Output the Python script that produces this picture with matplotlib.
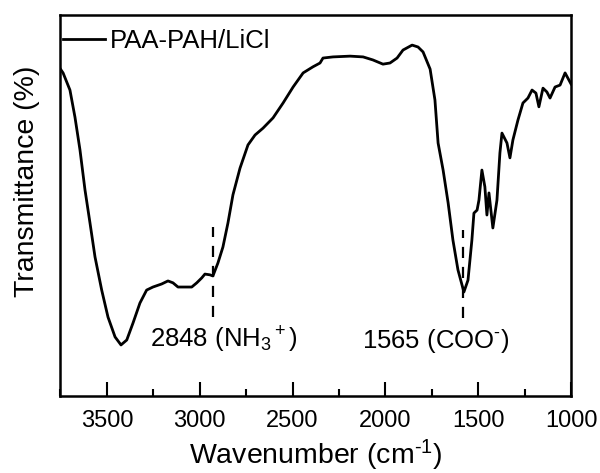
import numpy as np
import matplotlib
matplotlib.use("Agg")
import matplotlib.pyplot as plt
from matplotlib.ticker import MultipleLocator

plt.rcParams['font.family'] = ['Liberation Sans', 'DejaVu Sans']
plt.rcParams['mathtext.fontset'] = 'custom'
plt.rcParams['mathtext.rm'] = 'Liberation Sans'
plt.rcParams['mathtext.it'] = 'Liberation Sans:italic'

# FTIR spectrum of PAA-PAH/LiCl (wavenumber in cm-1, transmittance in a.u.)
wavenumber = [3750, 3736, 3699, 3672, 3645, 3618, 3591, 3564, 3528, 3494,
              3456, 3424, 3393, 3359, 3322, 3286, 3252, 3205, 3171, 3144,
              3117, 3079, 3043, 3016, 2989, 2972, 2945, 2929, 2902, 2875,
              2848, 2821, 2783, 2740, 2702, 2659, 2605, 2551, 2497, 2443,
              2390, 2352, 2336, 2282, 2190, 2120, 2067, 2013, 1975, 1937,
              1905, 1856, 1824, 1797, 1759, 1733, 1716, 1689, 1662, 1636,
              1609, 1577, 1555, 1534, 1523, 1506, 1496, 1480, 1464, 1453,
              1442, 1421, 1399, 1383, 1372, 1345, 1329, 1313, 1286, 1259,
              1232, 1210, 1189, 1173, 1151, 1130, 1113, 1086, 1059, 1032,
              1011, 1000]
transmittance = [85.8, 84.8, 80.3, 73.2, 64.6, 54.1, 45.4, 36.5, 27.8, 20.7,
                 15.5, 13.4, 14.7, 19.2, 24.4, 27.8, 28.6, 29.4, 30.2, 29.7,
                 28.6, 28.6, 28.6, 29.7, 31.0, 32.0, 31.8, 31.5, 34.9, 39.1,
                 45.4, 52.8, 59.8, 65.9, 68.5, 70.3, 73.0, 76.9, 81.1, 84.8,
                 86.4, 87.4, 88.7, 89.0, 89.2, 89.0, 88.2, 87.1, 87.4, 88.7,
                 90.8, 92.1, 91.6, 90.3, 85.8, 77.7, 66.4, 59.3, 50.7, 40.9,
                 33.1, 27.3, 30.4, 40.9, 48.0, 48.8, 51.4, 59.3, 54.9, 47.5,
                 53.3, 44.1, 51.4, 63.8, 69.0, 66.4, 62.5, 67.2, 72.4, 76.9,
                 78.2, 80.3, 79.5, 75.9, 80.8, 79.8, 78.2, 81.1, 81.6, 84.8,
                 82.9, 81.9]

# marked bands: dashed-line position, dash span and label
band_pos = [2930, 1580]
band_top = [44.4, 43.6]
band_bottom = [20.7, 20.5]
band_labels = ['2848 (NH$_3$$^+$)', '1565 (COO$^{\u2010}$)']
label_x = [3268, 2126]

fig = plt.figure(figsize=(6, 4.73), dpi=100)
ax = fig.add_axes([0.1008, 0.1628, 0.8509, 0.8055])

ax.plot(wavenumber, transmittance, color='black', lw=2.0, label='PAA-PAH/LiCl')

for x, y0, y1 in zip(band_pos, band_bottom, band_top):
    ax.plot([x, x], [y0, y1], color='black', lw=1.6, linestyle=(0, (5, 4)))

for lx, txt in zip(label_x, band_labels):
    ax.text(lx, 12.6, txt, ha='left', va='baseline', fontsize=18.5)

ax.set_xlim(3750, 1000)
ax.set_ylim(0, 100)
ax.xaxis.set_major_locator(MultipleLocator(500))
ax.xaxis.set_minor_locator(MultipleLocator(250))
ax.set_yticks([])
ax.tick_params(axis='x', which='major', direction='in', length=10, width=1.5,
               labelsize=17, pad=10)
ax.tick_params(axis='x', which='minor', direction='in', length=5, width=1.5)
for s in ax.spines.values():
    s.set_linewidth(1.8)

fig.text(316 / 600, 1 - 455 / 473, 'Wavenumber (cm$^{\u20101}$)', ha='center',
         va='center', fontsize=20.5)
fig.text(27 / 600, 1 - 181 / 473, 'Transmittance (%)', ha='center',
         va='center', rotation=90, fontsize=20.5)

ax.legend(loc='upper left', bbox_to_anchor=(0.005, 0.963), frameon=False,
          fontsize=18.5, handlelength=1.63, handletextpad=0.2,
          borderaxespad=0, borderpad=0)

fig.savefig('out.png', dpi=100)
